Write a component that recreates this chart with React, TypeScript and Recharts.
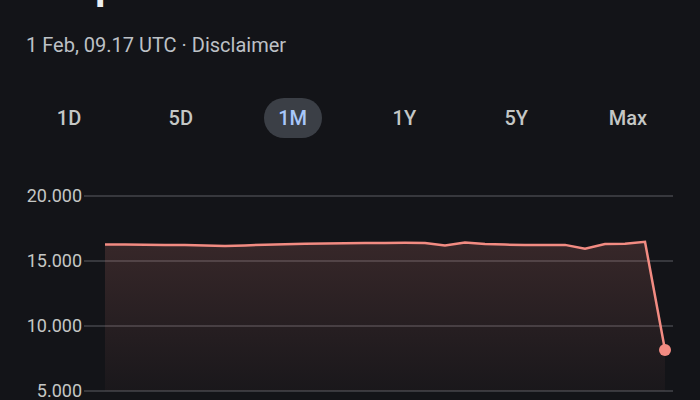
import { AreaChart, Area, XAxis, YAxis, CartesianGrid, ReferenceDot } from "recharts";

// one month of closes, x = trading day position
const days = [0, 1, 2, 3, 4, 5, 6, 7, 8, 9, 10, 11, 12, 13, 14, 15, 16, 17, 18, 19, 20, 21, 22, 23, 24, 25, 26, 27, 28];
const prices = [
  16270, 16260, 16250, 16240, 16230, 16200, 16150, 16200, 16250, 16290, 16320, 16340, 16360, 16380, 16390,
  16400, 16390, 16200, 16420, 16300, 16260, 16240, 16240, 16240, 15950, 16300, 16330, 16480, 8150,
];
const yTicks = [5000, 10000, 15000, 20000];
const xTicks = [6.05, 13.5, 21.9];
const ranges = ["1D", "5D", "1M", "1Y", "5Y", "Max"];
const activeRange = "1M";

const data = days.map((d, i) => ({ day: d, price: prices[i] }));

const font = "Roboto, 'Noto Sans', sans-serif";
const lineColor = "#f28b82";

function fmt(v: number) {
  return `${v / 1000}.000`;
}

export default function App() {
  return (
    <div
      style={{
        position: "fixed",
        left: 0,
        top: 0,
        width: 700,
        height: 400,
        overflow: "hidden",
        background: "#131418",
        fontFamily: font,
      }}
    >
      <div
        style={{
          position: "absolute",
          left: 85,
          top: -33,
          fontSize: 48,
          lineHeight: "48px",
          fontWeight: 500,
          color: "#eceef1",
        }}
      >
        1
      </div>
      <div
        style={{
          position: "absolute",
          left: 26,
          top: 33,
          fontSize: 20,
          lineHeight: "24px",
          color: "#bdc1c6",
          whiteSpace: "nowrap",
        }}
      >
        1 Feb, 09.17 UTC · Disclaimer
      </div>
      {ranges.map((r, i) => {
        const active = r === activeRange;
        return (
          <div
            key={r}
            style={{
              position: "absolute",
              left: 69 + i * 111.8 - 29,
              top: 98,
              width: 58,
              height: 40,
              borderRadius: 20,
              background: active ? "#3b3f46" : "transparent",
              color: active ? "#a8c7fa" : "#c4c7c5",
              fontSize: 20,
              fontWeight: 500,
              lineHeight: "40px",
              textAlign: "center",
            }}
          >
            {r}
          </div>
        );
      })}
      <div style={{ position: "absolute", left: 0, top: 0 }}>
        <AreaChart width={700} height={440} data={data} margin={{ top: 196, right: 27, bottom: 0, left: 0 }}>
          <defs>
            <linearGradient id="fillGrad" x1="0" y1="0" x2="0" y2="1">
              <stop offset="0%" stopColor={lineColor} stopOpacity={0.27} />
              <stop offset="50%" stopColor={lineColor} stopOpacity={0.16} />
              <stop offset="100%" stopColor={lineColor} stopOpacity={0.05} />
            </linearGradient>
          </defs>
          <CartesianGrid vertical={false} stroke="#44454a" strokeWidth={1.5} />
          <XAxis
            type="number"
            dataKey="day"
            domain={[-1.05, 28.4]}
            ticks={xTicks}
            axisLine={false}
            tickLine={{ stroke: "#4a4b50", strokeWidth: 1.5 }}
            tickSize={14}
            height={49}
            tick={false}
          />
          <YAxis
            domain={[5000, 20000]}
            ticks={yTicks}
            tickFormatter={fmt}
            axisLine={false}
            tickLine={false}
            tickSize={0}
            tickMargin={2}
            width={84}
            tick={{ fill: "#c4c7c5", fontSize: 18, fontFamily: font }}
          />
          <Area
            type="linear"
            dataKey="price"
            stroke={lineColor}
            strokeWidth={2.5}
            fill="url(#fillGrad)"
            dot={false}
            activeDot={false}
            isAnimationActive={false}
          />
          <ReferenceDot x={28} y={8150} r={6} fill={lineColor} stroke="none" />
        </AreaChart>
      </div>
    </div>
  );
}
